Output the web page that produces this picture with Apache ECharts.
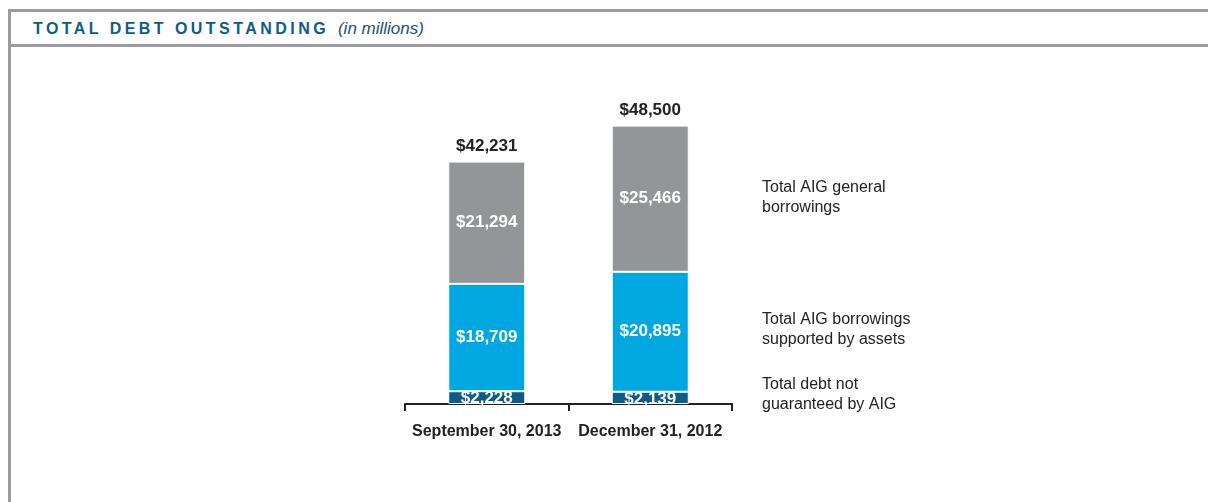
<!DOCTYPE html>
<html>
<head>
<meta charset="utf-8">
<script src="https://cdn.jsdelivr.net/npm/echarts@6/dist/echarts.min.js"></script>
<style>
  html, body { margin: 0; padding: 0; background: #fff; }
  body { width: 1208px; height: 502px; position: relative; overflow: hidden; font-family: "Liberation Sans", Arial, sans-serif; }
  .frame {
    position: absolute; left: 8px; top: 9px; width: 1300px; height: 600px;
    border-left: 3px solid #9a9b9d; border-top: 3px solid #9a9b9d;
  }
  .head {
    position: absolute; left: 11px; top: 12px; width: 1300px; height: 32px;
    border-bottom: 3px solid #9a9b9d;
  }
  .head .t {
    position: absolute; left: 22px; top: 7px;
    font-weight: bold; font-size: 16px; letter-spacing: 3.45px; color: #0c5c86;
  }
  .head .t i { font-weight: normal; letter-spacing: 0; font-size: 17px; color: #1d4f6e; margin-left: 1px; }
  #chart { position: absolute; left: 0; top: 0; width: 1208px; height: 502px; }
</style>
</head>
<body>
<div class="frame"></div>
<div class="head"><div class="t">TOTAL DEBT OUTSTANDING <i>(in millions)</i></div></div>
<div id="chart"></div>
<script>
// categories and values (in millions)
const categories = ['September 30, 2013', 'December 31, 2012']
const notGuaranteed = [2228, 2139]
const supportedByAssets = [18709, 20895]
const generalBorrowings = [21294, 25466]
const totals = [42231, 48500]
const seriesNames = [
  'Total debt not\nguaranteed by AIG',
  'Total AIG borrowings\nsupported by assets',
  'Total AIG general\nborrowings'
]

const fmt = v => '$' + Number(v).toLocaleString('en-US')

const chart = echarts.init(document.getElementById('chart'))

const segLabel = {
  show: true,
  position: 'inside',
  color: '#fff',
  fontWeight: 'bold',
  fontSize: 17,
  fontFamily: 'Liberation Sans, Arial, sans-serif',
  formatter: p => fmt(p.value)
}

const legendText = (name, top) => ({
  type: 'text',
  left: 762,
  top: top,
  style: {
    text: name,
    fill: '#222',
    font: '16px "Liberation Sans", Arial, sans-serif',
    lineHeight: 20
  }
})

chart.setOption({
  animation: false,
  grid: { left: 405, width: 327, top: 117, height: 287 },
  xAxis: {
    type: 'category',
    data: categories,
    axisLine: { lineStyle: { color: '#222', width: 2 } },
    axisTick: { show: true, interval: 0, length: 7, lineStyle: { color: '#222', width: 2 } },
    axisLabel: {
      interval: 0,
      color: '#222',
      fontWeight: 'bold',
      fontSize: 16,
      margin: 20,
      fontFamily: 'Liberation Sans, Arial, sans-serif'
    }
  },
  yAxis: {
    type: 'value',
    min: 0,
    max: 50000,
    show: false,
    splitLine: { show: false }
  },
  series: [
    {
      name: seriesNames[0],
      type: 'bar',
      stack: 'debt',
      barWidth: 77,
      data: notGuaranteed,
      itemStyle: { color: '#0d5c86', borderColor: '#fff', borderWidth: 1 },
      label: Object.assign({}, segLabel, { offset: [0, 1] })
    },
    {
      name: seriesNames[1],
      type: 'bar',
      stack: 'debt',
      data: supportedByAssets,
      itemStyle: { color: '#00a7e1', borderColor: '#fff', borderWidth: 1 },
      label: segLabel
    },
    {
      name: seriesNames[2],
      type: 'bar',
      stack: 'debt',
      data: generalBorrowings,
      itemStyle: { color: '#939598', borderColor: '#fff', borderWidth: 1 },
      label: segLabel
    },
    {
      name: 'Total',
      type: 'line',
      data: totals,
      symbol: 'circle',
      symbolSize: 2,
      itemStyle: { color: 'rgba(0,0,0,0)' },
      lineStyle: { color: 'rgba(0,0,0,0)' },
      silent: true,
      z: 5,
      label: {
        show: true,
        position: 'top',
        distance: 6,
        color: '#222',
        fontWeight: 'bold',
        fontSize: 17,
        fontFamily: 'Liberation Sans, Arial, sans-serif',
        formatter: p => fmt(p.value)
      }
    }
  ],
  graphic: [
    legendText(seriesNames[2], 178),
    legendText(seriesNames[1], 310),
    legendText(seriesNames[0], 375)
  ]
})
</script>
</body>
</html>
